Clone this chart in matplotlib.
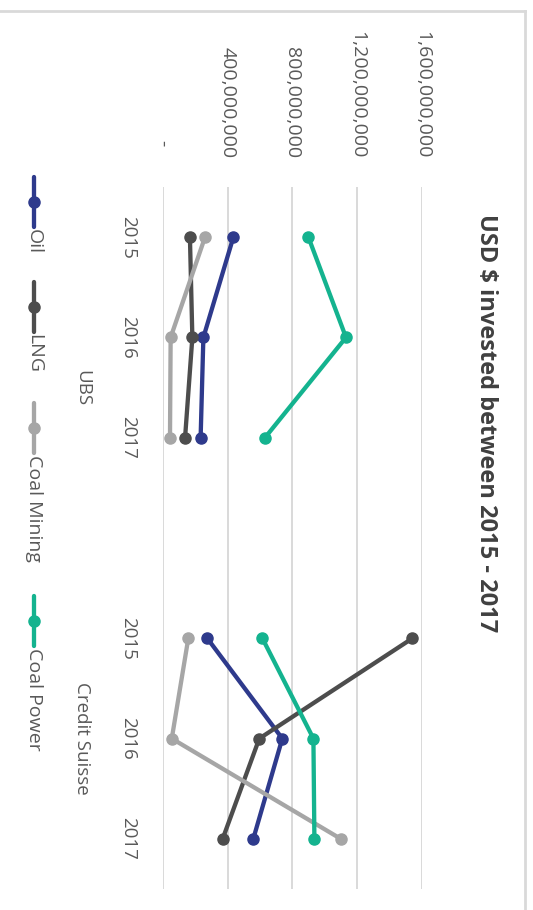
import numpy as np
import matplotlib
matplotlib.use('Agg')
import matplotlib.pyplot as plt
from matplotlib.lines import Line2D
from matplotlib.transforms import blended_transform_factory

plt.rcParams['font.family'] = ['Open Sans', 'DejaVu Sans']

# Data (USD millions)
banks = ['UBS', 'Credit Suisse']
years = ['2015', '2016', '2017']
series_names = ['Oil', 'LNG', 'Coal Mining', 'Coal Power']
colors = ['#2E3A8C', '#4D4D4D', '#A6A6A6', '#14B38F']

ubs_oil = [436, 251, 234]
ubs_lng = [168, 183, 138]
ubs_coal_mining = [261, 49, 45]
ubs_coal_power = [899, 1131, 631]

cs_oil = [275, 738, 559]
cs_lng = [1541, 596, 370]
cs_coal_mining = [158, 56, 1099]
cs_coal_power = [615, 930, 936]

value_ticks = [0, 400e6, 800e6, 1200e6, 1600e6]
value_labels = ['-', '400,000,000', '800,000,000', '1,200,000,000', '1,600,000,000']

W, H = 533, 910
fig = plt.figure(figsize=(W / 100, H / 100), dpi=100)


def fx(px):
    return px / W


def fy(py):
    return 1 - py / H


# plot area: value axis runs left->right, categories top->bottom (chart is rotated)
left, right, top, bottom = 162.7, 422, 187, 889
ax = fig.add_axes([fx(left), fy(bottom), fx(right) - fx(left), fy(top) - fy(bottom)])
ax.set_xlim(0, 1600e6)
n_cat = len(years) * 2 + 1  # blank slot between groups
ax.set_ylim(n_cat - 0.5, -0.5)
for s in ax.spines.values():
    s.set_visible(False)
ax.set_xticks(value_ticks)
ax.set_xticklabels([])
ax.set_yticks([])
ax.tick_params(length=0)
ax.grid(axis='x', color='#D9D9D9', lw=1.4)
ax.set_axisbelow(True)

ubs = [ubs_oil, ubs_lng, ubs_coal_mining, ubs_coal_power]
cs = [cs_oil, cs_lng, cs_coal_mining, cs_coal_power]
pos = np.arange(n_cat)
for i, name in enumerate(series_names):
    vals = np.array(ubs[i] + [np.nan] + cs[i], dtype=float) * 1e6
    ax.plot(vals, pos, color=colors[i], lw=3.1, marker='o', ms=8,
            solid_capstyle='round', zorder=3 + i, clip_on=False)

# value tick labels (rotated)
tr_v = blended_transform_factory(ax.transData, fig.transFigure)
for v, lab in zip(value_ticks, value_labels):
    if lab == '-':
        ax.text(v, fy(143), lab, transform=tr_v, rotation=-90, ha='center',
                va='center', fontsize=14, color='#595959')
    else:
        ax.text(v, fy(158), lab, transform=tr_v, rotation=-90, ha='center',
                va='bottom', fontsize=14, color='#595959')

# category labels
tr_c = blended_transform_factory(fig.transFigure, ax.transData)
for g, bank in enumerate(banks):
    for j, yr in enumerate(years):
        p = g * (len(years) + 1) + j
        ax.text(fx(128), p, yr, transform=tr_c, rotation=-90, ha='center',
                va='center', fontsize=13.5, color='#595959')
    center = g * (len(years) + 1) + 1.5 if g == 0 else g * (len(years) + 1) + 1
    ax.text(fx(82), center, bank, transform=tr_c, rotation=-90, ha='center',
            va='center', fontsize=13.5, color='#595959')

# title
fig.text(fx(486), fy(423), 'USD $ invested between 2015 - 2017', rotation=-90,
         ha='center', va='center', fontsize=17, fontweight='bold', color='#404040')

# legend (drawn by hand, rotated)
legend_centers = [202, 307, 428, 621]
for name, c, yc in zip(series_names, colors, legend_centers):
    fig.add_artist(Line2D([fx(34), fx(34)], [fy(yc - 25), fy(yc + 25)],
                          transform=fig.transFigure, color=c, lw=3.1,
                          solid_capstyle='round'))
    fig.add_artist(Line2D([fx(34)], [fy(yc)], transform=fig.transFigure,
                          color=c, marker='o', ms=8, lw=0))
    fig.text(fx(34), fy(yc + 27), name, rotation=-90, ha='center', va='top',
             fontsize=14, color='#595959')

# outer frame (top and right edges visible)
fig.add_artist(Line2D([0, fx(525)], [fy(11), fy(11)], transform=fig.transFigure,
                      color='#D9D9D9', lw=2))
fig.add_artist(Line2D([fx(525), fx(525)], [fy(11), 0], transform=fig.transFigure,
                      color='#D9D9D9', lw=2))

fig.savefig('out.png', dpi=100, facecolor='white')
